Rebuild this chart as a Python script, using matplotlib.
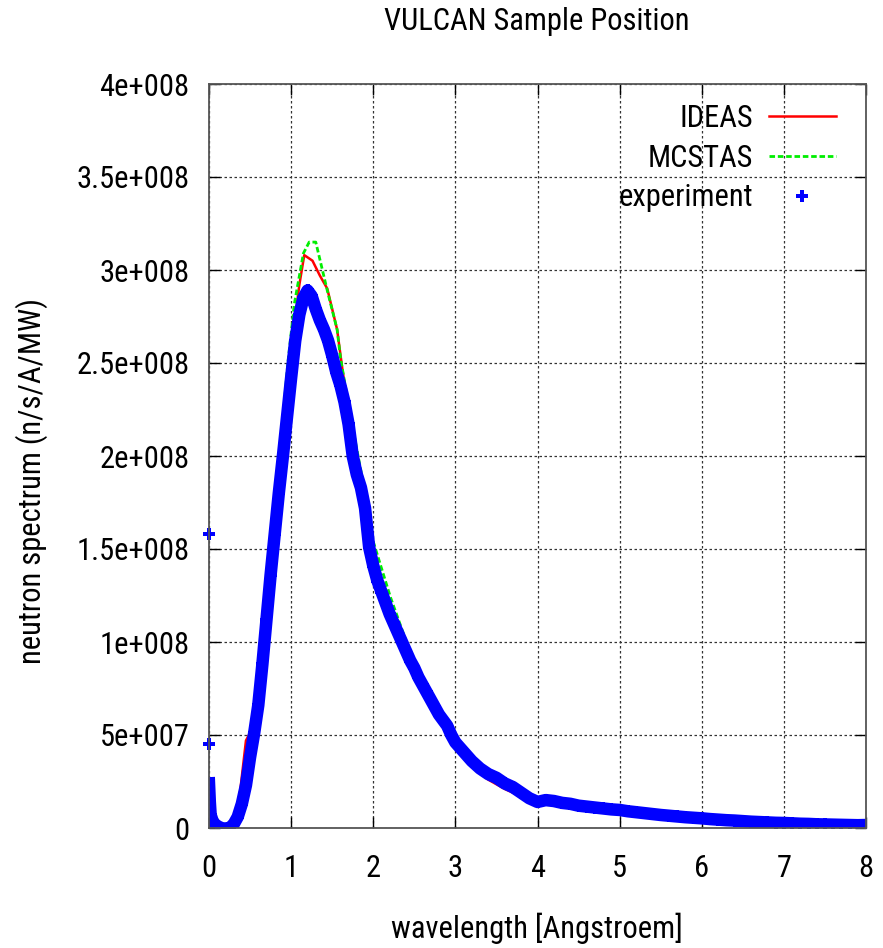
import matplotlib
matplotlib.use("Agg")
import matplotlib.pyplot as plt
from matplotlib.ticker import FuncFormatter
import numpy as np

plt.rcParams['font.family'] = ['Roboto Condensed', 'DejaVu Sans']

# ---- dati (flusso in unita di 1e8) ----
# IDEAS (linea rossa)
ideas_wl = [0.05, 0.15, 0.25, 0.32, 0.38, 0.45, 0.51, 0.60, 0.70, 0.80, 0.90, 0.96, 1.04,
            1.10, 1.16, 1.26, 1.35, 1.44, 1.56, 1.62, 1.70, 1.80, 1.90, 2.00, 2.10, 2.20,
            2.40, 2.60, 2.80, 3.00, 3.20, 3.40, 3.60, 3.80, 4.00, 4.50, 5.00, 5.50, 6.00,
            6.50, 7.00, 7.50, 8.00]
ideas_flux = [0.01, 0.00, 0.02, 0.06, 0.20, 0.47, 0.52, 0.74, 1.20, 1.68, 2.15, 2.45, 2.71,
              2.92, 3.08, 3.05, 2.97, 2.90, 2.68, 2.48, 2.24, 2.02, 1.78, 1.52, 1.32, 1.18,
              0.97, 0.77, 0.58, 0.43, 0.33, 0.26, 0.21, 0.17, 0.14, 0.10, 0.075, 0.055,
              0.040, 0.030, 0.022, 0.017, 0.013]

# MCSTAS (linea verde tratteggiata)
mcstas_wl = [0.10, 0.20, 0.30, 0.40, 0.50, 0.60, 0.70, 0.80, 0.90, 0.96, 1.04, 1.15, 1.22,
             1.30, 1.44, 1.56, 1.60, 1.725, 1.85, 2.00, 2.21, 2.42, 2.60, 2.80, 3.00, 3.20,
             3.40, 3.60, 3.80, 4.00, 4.50, 5.00, 5.50, 6.00, 6.50, 7.00, 7.50, 8.00]
mcstas_flux = [0.00, 0.00, 0.03, 0.15, 0.40, 0.76, 1.25, 1.75, 2.20, 2.50, 2.82, 3.09, 3.15,
               3.15, 2.89, 2.68, 2.53, 2.21, 1.92, 1.54, 1.24, 0.98, 0.79, 0.61, 0.47, 0.37,
               0.29, 0.235, 0.19, 0.155, 0.11, 0.08, 0.06, 0.045, 0.034, 0.026, 0.020, 0.016]

# esperimento (punti blu)
exp_wl = [0.00, 0.01, 0.02, 0.05, 0.10, 0.15, 0.20, 0.25, 0.30, 0.35, 0.40, 0.45, 0.50,
          0.55, 0.60, 0.65, 0.70, 0.75, 0.80, 0.85, 0.90, 0.95, 1.00, 1.05, 1.10, 1.15,
          1.20, 1.25, 1.30, 1.35, 1.40, 1.45, 1.50, 1.55, 1.60, 1.65, 1.70, 1.75, 1.80,
          1.85, 1.90, 1.95, 2.00, 2.05, 2.10, 2.15, 2.20, 2.25, 2.30, 2.35, 2.40, 2.45,
          2.50, 2.55, 2.60, 2.65, 2.70, 2.75, 2.80, 2.85, 2.90, 2.95, 3.00, 3.10, 3.20,
          3.30, 3.40, 3.50, 3.60, 3.70, 3.80, 3.90, 4.00, 4.10, 4.20, 4.30, 4.40, 4.50,
          4.60, 4.70, 4.80, 4.90, 5.00, 5.10, 5.20, 5.30, 5.40, 5.50, 5.60, 5.70, 5.80,
          5.90, 6.00, 6.10, 6.20, 6.30, 6.40, 6.50, 6.60, 6.70, 6.80, 6.90, 7.00, 7.10,
          7.20, 7.30, 7.40, 7.50, 7.60, 7.70, 7.80, 7.90, 8.00]
exp_flux = [0.24, 0.14, 0.07, 0.03, 0.01, 0.00, -0.005, 0.00, 0.02, 0.06, 0.13, 0.23, 0.38,
            0.51, 0.66, 0.88, 1.12, 1.36, 1.58, 1.80, 2.00, 2.21, 2.42, 2.62, 2.76, 2.85,
            2.89, 2.86, 2.79, 2.73, 2.68, 2.62, 2.54, 2.45, 2.38, 2.29, 2.17, 2.00, 1.90,
            1.83, 1.72, 1.51, 1.41, 1.33, 1.27, 1.21, 1.15, 1.10, 1.05, 1.00, 0.95, 0.90,
            0.86, 0.81, 0.77, 0.73, 0.69, 0.65, 0.61, 0.58, 0.55, 0.50, 0.46, 0.41, 0.36,
            0.32, 0.29, 0.27, 0.24, 0.22, 0.19, 0.16, 0.14, 0.15, 0.145, 0.135, 0.13, 0.12,
            0.115, 0.11, 0.105, 0.10, 0.097, 0.09, 0.085, 0.08, 0.075, 0.07, 0.066, 0.062,
            0.058, 0.055, 0.052, 0.048, 0.045, 0.042, 0.040, 0.037, 0.034, 0.032, 0.030,
            0.028, 0.027, 0.025, 0.023, 0.022, 0.020, 0.019, 0.018, 0.017, 0.016, 0.015,
            0.016]
# punti isolati a lambda = 0
exp_iso_wl = [0.00, 0.00]
exp_iso_flux = [1.58, 0.45]

scale = 1e8
FS = 22

fig = plt.figure(figsize=(8.83, 9.48), dpi=100)
ax = fig.add_axes([209 / 883, 120 / 948, 657 / 883, 744 / 948])

ax.plot(ideas_wl, np.array(ideas_flux) * scale, color="#ff0000", lw=1.8, label="IDEAS")
ax.plot(mcstas_wl, np.array(mcstas_flux) * scale, color="#00ee00", lw=2.0,
        dashes=(2.0, 1.0), label="MCSTAS")
ax.plot(exp_wl, np.array(exp_flux) * scale, color="#0000ff", lw=9.0,
        solid_joinstyle="round", label="_nolegend_")
ax.plot(exp_wl, np.array(exp_flux) * scale, "P", color="#0000ff", ms=9, mew=0,
        label="experiment")
ax.plot(exp_iso_wl, np.array(exp_iso_flux) * scale, "P", color="#0000ff", ms=8, mew=0,
        clip_on=False)

ax.set_xlim(0, 8)
ax.set_ylim(0, 4e8)
ax.set_xticks(range(0, 9))
ax.set_yticks(np.arange(0, 4.01e8, 0.5e8))


def gnuplot_fmt(v, pos):
    if v == 0:
        return "0"
    s = f"{v:g}"
    mant, ex = s.split("e")
    return f"{mant}e{ex[0]}{ex[1:].zfill(3)}"


ax.yaxis.set_major_formatter(FuncFormatter(gnuplot_fmt))
ax.tick_params(direction="in", length=8, width=1.0, top=True, right=True,
               labelsize=FS, pad=14)
ax.tick_params(axis="x", pad=19)
ax.grid(True, color="#333333", linestyle=(0, (2, 2)), lw=0.9)
for sp in ax.spines.values():
    sp.set_color("#555555")
    sp.set_linewidth(1.3)

leg = ax.legend(loc="upper right", bbox_to_anchor=(0.954, 0.973), frameon=False,
                markerfirst=False, fontsize=FS, handlelength=2.2, handletextpad=0.5,
                borderpad=0, borderaxespad=0, labelspacing=0.35)

fig.text(537 / 883, 1 - 22 / 948, "VULCAN Sample Position", ha="center", va="center",
         fontsize=FS)
fig.text(537 / 883, 1 - 928 / 948, "wavelength [Angstroem]", ha="center", va="center",
         fontsize=FS)
fig.text(32 / 883, 1 - 481 / 948, "neutron spectrum (n/s/A/MW)", ha="center",
         va="center", rotation=90, fontsize=FS)

fig.savefig("out.png", dpi=100)
